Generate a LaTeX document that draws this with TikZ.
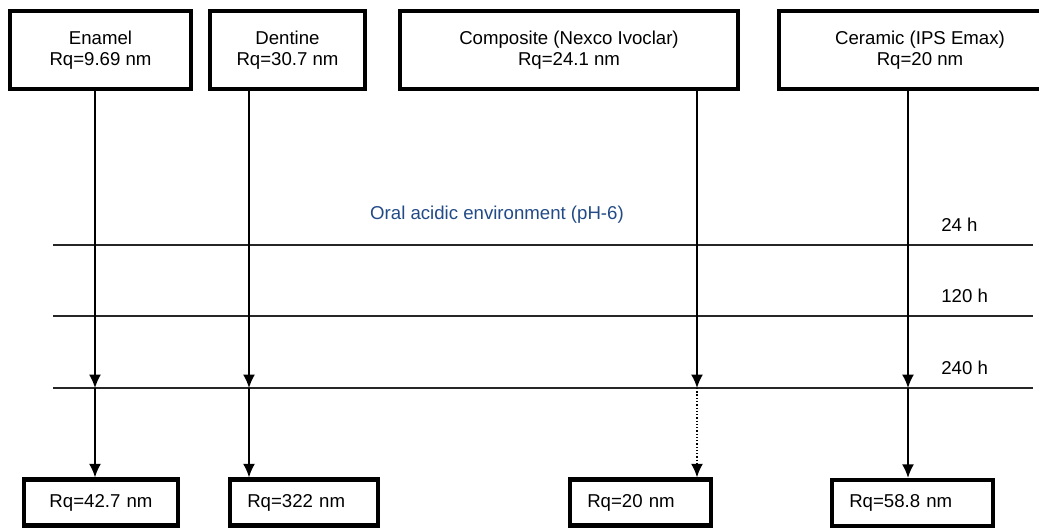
\documentclass[tikz,border=0pt]{standalone}
\usepackage{fontspec}
\setmainfont{Liberation Sans}
\usetikzlibrary{arrows.meta}
\definecolor{envblue}{RGB}{33,74,134}

\begin{document}
\begin{tikzpicture}[%
	x=0.02cm, y=-0.02cm,%
	font=\fontsize{10.6}{11.8}\selectfont,%
	material/.style ={draw, line width=2.5pt, minimum height=1.55cm, align=center, inner sep=0pt},%
	result/.style ={draw, line width=2.5pt, minimum height=0.92cm, inner xsep=0.34cm, inner ysep=0pt, align=left},%
	flow/.style ={line width=0.85pt, -{Latex[length=2.7mm,width=2.4mm]}},%
	level/.style ={line width=0.9pt, black!85},%
	]
\clip (0,0) rectangle (1039,530);
%%% materials
	\node [material, minimum width=3.61cm] (enamel) at (100.5,50) {Enamel\\Rq=9.69 nm};
	\node [material, minimum width=3.09cm] (dentine) at (287.5,50) {Dentine\\Rq=30.7 nm};
	\node [material, minimum width=6.75cm] (composite) at (569,50) {Composite (Nexco Ivoclar)\\Rq=24.1 nm};
	\node [material, minimum width=5.63cm] (ceramic) at (920,50) {Ceramic (IPS Emax)\\Rq=20 nm};
%%% materials
%%% time levels
	\node [envblue, anchor=base] (env) at (497,220) {Oral acidic environment (pH-6)};
	\foreach \y/\hours in {245/24,316/120,388/240}
		{\draw [level] (53,\y) -- (1033,\y);
		 \node [anchor=base west, inner sep=0pt] (h\hours) at (941,\y-13) {\hours\ h};}
%%% time levels
%%% results
	\node [result, text width=2.39cm, align=center] (enamelRq) at (101,502.5) {Rq=42.7 nm};
	\node [result, text width=2.27cm] (dentineRq) at (304,502.5) {Rq=322 nm};
	\node [result, text width=2.13cm] (compositeRq) at (640.5,502.5) {Rq=20 nm};
	\node [result, text width=2.53cm] (ceramicRq) at (912.5,503) {Rq=58.8 nm};
%%% results
%%% arrows
	\coordinate (enamelA) at (95,388);
	\coordinate (dentineA) at (249,388);
	\coordinate (compositeA) at (697,388);
	\coordinate (ceramicA) at (908,388);
	\foreach \m in {enamel,dentine,composite,ceramic}
		{\draw [flow] (\m.south -| \m A) -- (\m A);}
	\draw [flow] (enamelA) -- (enamelRq.north -| enamelA);
	\draw [flow] (dentineA) -- (dentineRq.north -| dentineA);
	\draw [flow, densely dotted] (compositeA) -- (compositeRq.north -| compositeA);
	\draw [flow] (ceramicA) -- (ceramicRq.north -| ceramicA);
%%% arrows
\end{tikzpicture}
\end{document}
